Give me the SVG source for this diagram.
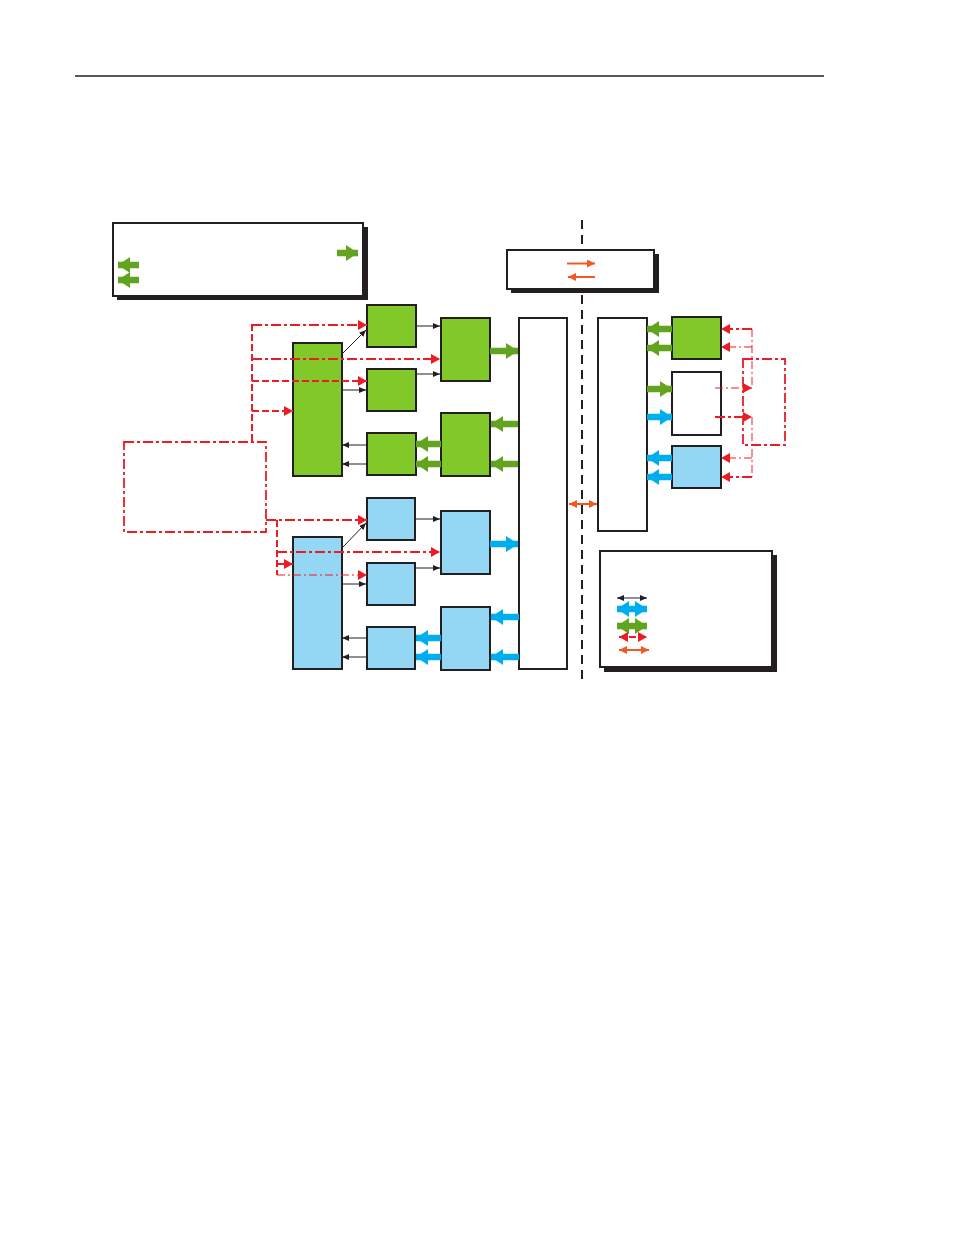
<svg xmlns="http://www.w3.org/2000/svg" width="954" height="1235" viewBox="0 0 954 1235">
<style>
.g{fill:#80C929;stroke:#231F20;stroke-width:2}
.b{fill:#93D7F5;stroke:#231F20;stroke-width:2}
.w{fill:#fff;stroke:#231F20;stroke-width:2}
.sh{fill:#231F20}
.blk{stroke:#231F20;stroke-width:1;fill:none;marker-end:url(#mB)}
.ga{stroke:#62A31F;stroke-width:6.5;fill:none;marker-end:url(#mG)}
.ba{stroke:#00AEEF;stroke-width:6.5;fill:none;marker-end:url(#mC)}
.rdd{stroke:#ED1C24;stroke-width:2;fill:none;stroke-dasharray:10 3 3 3}
.rd{stroke:#ED1C24;stroke-width:2;fill:none;stroke-dasharray:7 3}
.rt{stroke:#ED1C24;stroke-width:1;fill:none;stroke-dasharray:8 3 2 3}
.ra{marker-end:url(#mR)}
.or{stroke:#F15A24;stroke-width:2;fill:none;marker-end:url(#mO)}
</style>
<defs>
<marker id="mG" markerUnits="userSpaceOnUse" markerWidth="12" markerHeight="16" viewBox="0 0 12 16" refX="12" refY="8" orient="auto-start-reverse"><path d="M0,0 L12,8 L0,16 z" fill="#62A31F"/></marker>
<marker id="mC" markerUnits="userSpaceOnUse" markerWidth="12" markerHeight="16" viewBox="0 0 12 16" refX="12" refY="8" orient="auto-start-reverse"><path d="M0,0 L12,8 L0,16 z" fill="#00AEEF"/></marker>
<marker id="mB" markerUnits="userSpaceOnUse" markerWidth="7" markerHeight="6" viewBox="0 0 7 6" refX="7" refY="3" orient="auto-start-reverse"><path d="M0,0 L7,3 L0,6 z" fill="#231F20"/></marker>
<marker id="mR" markerUnits="userSpaceOnUse" markerWidth="9" markerHeight="10" viewBox="0 0 9 10" refX="9" refY="5" orient="auto-start-reverse"><path d="M0,0 L9,5 L0,10 z" fill="#ED1C24"/></marker>
<marker id="mO" markerUnits="userSpaceOnUse" markerWidth="8" markerHeight="8" viewBox="0 0 8 8" refX="8" refY="4" orient="auto-start-reverse"><path d="M0,0 L8,4 L0,8 z" fill="#F15A24"/></marker>
</defs>
<rect width="954" height="1235" fill="#fff"/>
<line x1="75" y1="76" x2="824" y2="76" stroke="#231F20" stroke-width="1.5"/>
<line x1="582" y1="220" x2="582" y2="680" stroke="#231F20" stroke-width="2" stroke-dasharray="9 6"/>

<g id="legend1">
<rect class="sh" x="117" y="227" width="251" height="73"/>
<rect class="w" x="113" y="223" width="250" height="73"/>
<line class="ga" x1="337" y1="253" x2="358" y2="253"/>
<line class="ga" x1="139" y1="265" x2="118" y2="265"/>
<line class="ga" x1="139" y1="280" x2="118" y2="280"/>
</g>
<g id="legend2">
<rect class="sh" x="511" y="254" width="148" height="39"/>
<rect class="w" x="507" y="250" width="147" height="39" stroke-width="1.5"/>
<line class="or" x1="567" y1="263.5" x2="595" y2="263.5"/>
<line class="or" x1="595" y1="277" x2="568" y2="277"/>
</g>
<g id="legend3">
<rect class="sh" x="604" y="555" width="173" height="117"/>
<rect class="w" x="600" y="551" width="172" height="116"/>
<line class="blk" x1="617" y1="598" x2="647" y2="598" marker-start="url(#mB)"/>
<line class="ba" x1="617" y1="609" x2="647" y2="609" marker-start="url(#mC)"/>
<line class="ga" x1="617" y1="626" x2="647" y2="626" marker-start="url(#mG)"/>
<line class="rd" x1="619" y1="637" x2="647" y2="637" stroke-width="1.5" stroke-dasharray="4 3" marker-start="url(#mR)" marker-end="url(#mR)"/>
<line class="or" x1="619" y1="650" x2="649" y2="650" stroke-width="1.5" marker-start="url(#mO)"/>
</g>

<g id="green-main"><rect class="g" x="293" y="343" width="49" height="133"/></g>
<g id="green-a"><rect class="g" x="367" y="305" width="49" height="42"/></g>
<g id="green-b"><rect class="g" x="367" y="369" width="49" height="42"/></g>
<g id="green-c"><rect class="g" x="367" y="433" width="49" height="42"/></g>
<g id="green-d"><rect class="g" x="441" y="318" width="49" height="63"/></g>
<g id="green-e"><rect class="g" x="441" y="413" width="49" height="63"/></g>

<g id="blue-main"><rect class="b" x="293" y="537" width="49" height="132"/></g>
<g id="blue-a"><rect class="b" x="367" y="498" width="48" height="42"/></g>
<g id="blue-b"><rect class="b" x="367" y="563" width="48" height="42"/></g>
<g id="blue-c"><rect class="b" x="367" y="627" width="48" height="42"/></g>
<g id="blue-d"><rect class="b" x="441" y="511" width="49" height="63"/></g>
<g id="blue-e"><rect class="b" x="441" y="607" width="49" height="63"/></g>

<g id="bus-left"><rect class="w" x="519" y="318" width="48" height="351"/></g>
<g id="bus-right"><rect class="w" x="598" y="318" width="49" height="213" stroke-width="1.5"/></g>

<g id="right-green"><rect class="g" x="672" y="317" width="49" height="42"/></g>
<g id="right-white"><rect class="w" x="672" y="372" width="49" height="63"/></g>
<g id="right-blue"><rect class="b" x="672" y="446" width="49" height="42"/></g>

<g id="ctrl-left"><rect x="124" y="442" width="142" height="90" fill="none" stroke="#ED1C24" stroke-width="1.8" stroke-dasharray="10 3 3 3"/></g>
<g id="ctrl-right"><rect x="743" y="359" width="42" height="86" fill="none" stroke="#ED1C24" stroke-width="1.8" stroke-dasharray="10 3 3 3"/></g>

<g id="connectors">
<line class="blk" x1="416" y1="326" x2="440" y2="326"/>
<line class="blk" x1="416" y1="374" x2="440" y2="374"/>
<line class="blk" x1="342" y1="390" x2="366" y2="390"/>
<line class="blk" x1="367" y1="445" x2="342" y2="445"/>
<line class="blk" x1="367" y1="464" x2="342" y2="464"/>
<line class="blk" x1="342" y1="354" x2="366" y2="330" stroke="#555"/>
<line class="blk" x1="415" y1="519" x2="440" y2="519"/>
<line class="blk" x1="415" y1="568" x2="440" y2="568"/>
<line class="blk" x1="342" y1="584" x2="366" y2="584"/>
<line class="blk" x1="367" y1="638" x2="342" y2="638"/>
<line class="blk" x1="367" y1="657" x2="342" y2="657"/>
<line class="blk" x1="343" y1="547" x2="366" y2="523"/>
<line class="ga" x1="490" y1="351" x2="518" y2="351"/>
<line class="ga" x1="518" y1="424" x2="491" y2="424"/>
<line class="ga" x1="518" y1="464" x2="491" y2="464"/>
<line class="ga" x1="441" y1="444" x2="416" y2="444"/>
<line class="ga" x1="441" y1="464" x2="416" y2="464"/>
<line class="ga" x1="672" y1="329" x2="647" y2="329"/>
<line class="ga" x1="672" y1="348" x2="647" y2="348"/>
<line class="ga" x1="647" y1="389" x2="672" y2="389"/>
<line class="ba" x1="490" y1="544" x2="518" y2="544"/>
<line class="ba" x1="519" y1="617" x2="491" y2="617"/>
<line class="ba" x1="519" y1="657" x2="491" y2="657"/>
<line class="ba" x1="441" y1="638" x2="416" y2="638"/>
<line class="ba" x1="441" y1="657" x2="416" y2="657"/>
<line class="ba" x1="647" y1="417" x2="672" y2="417"/>
<line class="ba" x1="672" y1="458" x2="647" y2="458"/>
<line class="ba" x1="672" y1="477" x2="647" y2="477"/>
<line class="or" x1="569" y1="504" x2="597" y2="504" marker-start="url(#mO)"/>
<line class="rd" x1="252" y1="324" x2="252" y2="442"/>
<line class="rdd ra" x1="252" y1="325" x2="367" y2="325"/>
<line class="rdd ra" x1="252" y1="359" x2="440" y2="359"/>
<line class="rd ra" x1="252" y1="381" x2="367" y2="381"/>
<line class="rd ra" x1="252" y1="411" x2="293" y2="411"/>
<line class="rdd ra" x1="266" y1="520" x2="367" y2="520"/>
<line class="rd" x1="277" y1="520" x2="277" y2="575"/>
<line class="rdd ra" x1="277" y1="552" x2="440" y2="552"/>
<line class="rd ra" x1="277" y1="564" x2="293" y2="564"/>
<line class="rt ra" x1="277" y1="575" x2="367" y2="575"/>
<line class="rt" x1="752" y1="329" x2="752" y2="388"/>
<line class="rt" x1="752" y1="417" x2="752" y2="477"/>
<line class="rdd ra" x1="752" y1="329" x2="721" y2="329"/>
<line class="rt ra" x1="752" y1="347" x2="721" y2="347"/>
<line class="rt ra" x1="715" y1="388" x2="752" y2="388"/>
<line class="rdd ra" x1="715" y1="417" x2="752" y2="417"/>
<line class="rt ra" x1="752" y1="458" x2="721" y2="458"/>
<line class="rdd ra" x1="752" y1="477" x2="721" y2="477"/>
</g>
</svg>
